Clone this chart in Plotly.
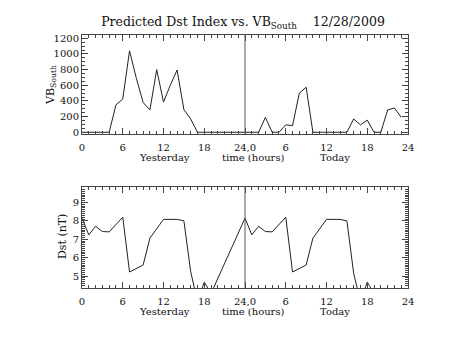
import plotly.graph_objects as go
from plotly.subplots import make_subplots

# ---- data ----
vb_hours = list(range(0, 48))
vb_values = [0, 0, 0, 0, 0, 350, 425, 1040, 690, 380, 285, 800, 385, 600, 795, 290,
             170, 0, 0, 0, 0, 0, 0, 0,
             0, 0, 0, 190, 0, 0, 95, 85, 500, 575, 0, 0, 0, 0, 0, 0,
             170, 95, 155, 0, 0, 285, 310, 190]

dst_hours = [0, 1, 2, 3, 4, 6, 7, 9, 10, 11, 12, 14, 15, 16, 17, 18, 19,
             24, 25, 26, 27, 28, 30, 31, 33, 34, 35, 36, 38, 39, 40, 41, 42, 43]
dst_values = [8.15, 7.24, 7.7, 7.42, 7.4, 8.2, 5.22, 5.6, 7.06, 7.6, 8.08, 8.08, 8.0, 5.25, 3.6, 4.67, 4.05,
              8.15, 7.24, 7.7, 7.42, 7.4, 8.2, 5.22, 5.6, 7.06, 7.6, 8.08, 8.08, 8.0, 5.15, 3.6, 4.67, 4.05]

x_tickvals = [0, 6, 12, 18, 24, 30, 36, 42, 48]
x_ticktext = ["0", "6", "12", "18", "24,0", "6", "12", "18", "24"]
vb_ticks = [0, 200, 400, 600, 800, 1000, 1200]
dst_ticks = [5, 6, 7, 8, 9]
sub_labels = ["Yesterday", "time (hours)", "Today"]
sub_label_hours = [12.2, 25.3, 37.2]

FONT = "DejaVu Serif"
W, H = 453, 340
L, R, T, B = 82, 45, 35, 52
pw = W - L - R
ph = H - T - B
top_dom = [(288 - 134) / ph, 1.0]
bot_dom = [0.0, (288 - 187) / ph]


def px_to_paper(px, py):
    return (px - L) / pw, (H - B - py) / ph


fig = make_subplots(rows=2, cols=1)
fig.add_trace(go.Scatter(x=vb_hours, y=vb_values, mode="lines",
                         line=dict(color="#222", width=1)), row=1, col=1)
fig.add_trace(go.Scatter(x=dst_hours, y=dst_values, mode="lines",
                         line=dict(color="#222", width=1)), row=2, col=1)

ax_common = dict(showline=True, linecolor="#444", linewidth=1, mirror="ticks",
                 ticks="inside", tickcolor="#444", showgrid=False, zeroline=False,
                 tickfont=dict(family=FONT, size=10, color="#111"))
xcommon = dict(ax_common, range=[0, 48], tickvals=x_tickvals, ticktext=x_ticktext,
               ticklen=6, ticklabelstandoff=4,
               minor=dict(dtick=1, ticks="inside", ticklen=3, tickcolor="#444"))
fig.update_xaxes(xcommon, row=1, col=1)
fig.update_xaxes(xcommon, row=2, col=1)
fig.update_yaxes(ax_common, row=1, col=1, range=[-22, 1242], tickvals=vb_ticks, ticklen=6,
                 minor=dict(dtick=50, tick0=0, ticks="inside", ticklen=3, tickcolor="#444"))
fig.update_yaxes(ax_common, row=2, col=1, range=[4.35, 9.84], tickvals=dst_ticks, ticklen=6,
                 minor=dict(dtick=0.1, tick0=0, ticks="inside", ticklen=3, tickcolor="#444"))
fig.update_layout(
    xaxis=dict(domain=[0, 1]), yaxis=dict(domain=top_dom),
    xaxis2=dict(domain=[0, 1]), yaxis2=dict(domain=bot_dom),
)

# y-axis titles as rotated annotations
ax1, ay1 = px_to_paper(51, 85)
ax2, ay2 = px_to_paper(62, 237)
fig.add_annotation(x=ax1, y=ay1, xref="paper", yref="paper", yanchor="middle",
                   xanchor="center", text="VB<sub>South</sub>", textangle=-90, showarrow=False,
                   font=dict(family=FONT, size=11, color="#111"))
fig.add_annotation(x=ax2, y=ay2, xref="paper", yref="paper", yanchor="middle",
                   xanchor="center", text="Dst (nT)", textangle=-90, showarrow=False,
                   font=dict(family=FONT, size=11, color="#111"))

# vertical line at day boundary
for xr, yr in (("x", "y domain"), ("x2", "y2 domain")):
    fig.add_shape(type="line", x0=24, x1=24, y0=0, y1=1, xref=xr, yref=yr,
                  line=dict(color="#555", width=1))

# under-axis labels
for xr, yr in (("x", "y domain"), ("x2", "y2 domain")):
    for xv, txt in zip(sub_label_hours, sub_labels):
        fig.add_annotation(x=xv, y=0, xref=xr, yref=yr, text=txt, showarrow=False,
                           yanchor="middle", yshift=-23, font=dict(family=FONT, size=10, color="#111"))

fig.update_layout(
    width=W, height=H, margin=dict(l=L, r=R, t=T, b=B),
    paper_bgcolor="white", plot_bgcolor="white", showlegend=False,
    title=dict(text="Predicted Dst Index vs. VB<sub>South</sub>    12/28/2009",
               x=243 / W, xanchor="center", y=1 - 22 / H, yanchor="middle",
               font=dict(family=FONT, size=12.5, color="#111")),
)
fig.write_html("out.html")
